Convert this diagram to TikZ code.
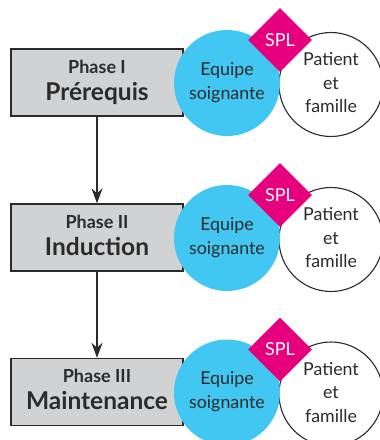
\documentclass[tikz,border=0pt]{standalone}
\usepackage{fontspec}
\setmainfont{Lato}
\usetikzlibrary{shapes.geometric,arrows.meta}
\definecolor{boxgray}{HTML}{D1D2D4}
\definecolor{skyblue}{HTML}{41C7F2}
\definecolor{spink}{HTML}{E6007E}
\definecolor{ink}{HTML}{2B2B2B}
\begin{document}
\begin{tikzpicture}[x=1pt,y=-1pt,
  phasebox/.style={draw=ink,line width=1.4pt,fill=boxgray,minimum width=172pt,minimum height=67pt,inner sep=0pt},
  teamcirc/.style={circle,fill=skyblue,minimum size=106pt,inner sep=0pt},
  famcirc/.style={circle,draw=ink,line width=1.1pt,fill=white,minimum size=104pt,inner sep=0pt},
  spldiam/.style={diamond,fill=spink,minimum width=64pt,minimum height=64pt,inner sep=0pt},
  small/.style={text=ink,font=\bfseries\fontsize{18}{18}\selectfont,anchor=base,inner sep=0pt},
  big/.style={text=ink,font=\bfseries\fontsize{24.5}{24.5}\selectfont,anchor=base,inner sep=0pt},
  circtxt/.style={text=ink,font=\fontsize{17.8}{17.8}\selectfont,anchor=base,inner sep=0pt},
  spltxt/.style={text=white,font=\fontsize{18}{18}\selectfont,anchor=base,inner sep=0pt},
  flow/.style={draw=ink,line width=1.2pt,-{Stealth[length=15pt,width=11pt]}}]
\useasboundingbox (0,0) rectangle (380,440);
\foreach \i/\r/\ph/\nm in {1/0/Phase I/Prérequis, 2/155/Phase II/Induction, 3/309.5/Phase III/Maintenance}{
  \node[phasebox] (box\i) at (97,82.5+\r) {};
  \node[small] (ph\i) at (97,73+\r) {\ph};
  \node[big] (nm\i) at (97,100+\r) {\nm};
  \node[famcirc] (fam\i) at (331,84.5+\r) {};
  \node[teamcirc] (team\i) at (227,83+\r) {};
  \node[circtxt] (eq\i) at (227,75+\r) {Equipe};
  \node[circtxt] (so\i) at (227,99+\r) {soignante};
  \node[circtxt] (pa\i) at (331,65.5+\r) {Patient};
  \node[circtxt] (et\i) at (331,89+\r) {et};
  \node[circtxt] (fa\i) at (331,112.5+\r) {famille};
  \node[spldiam] (spl\i) at (280,40+\r) {};
  \node[spltxt] (st\i) at (280,46+\r) {SPL};
}
\draw[flow] (box1.south) -- (box2.north);
\draw[flow] (box2.south) -- (box3.north);
\end{tikzpicture}
\end{document}
